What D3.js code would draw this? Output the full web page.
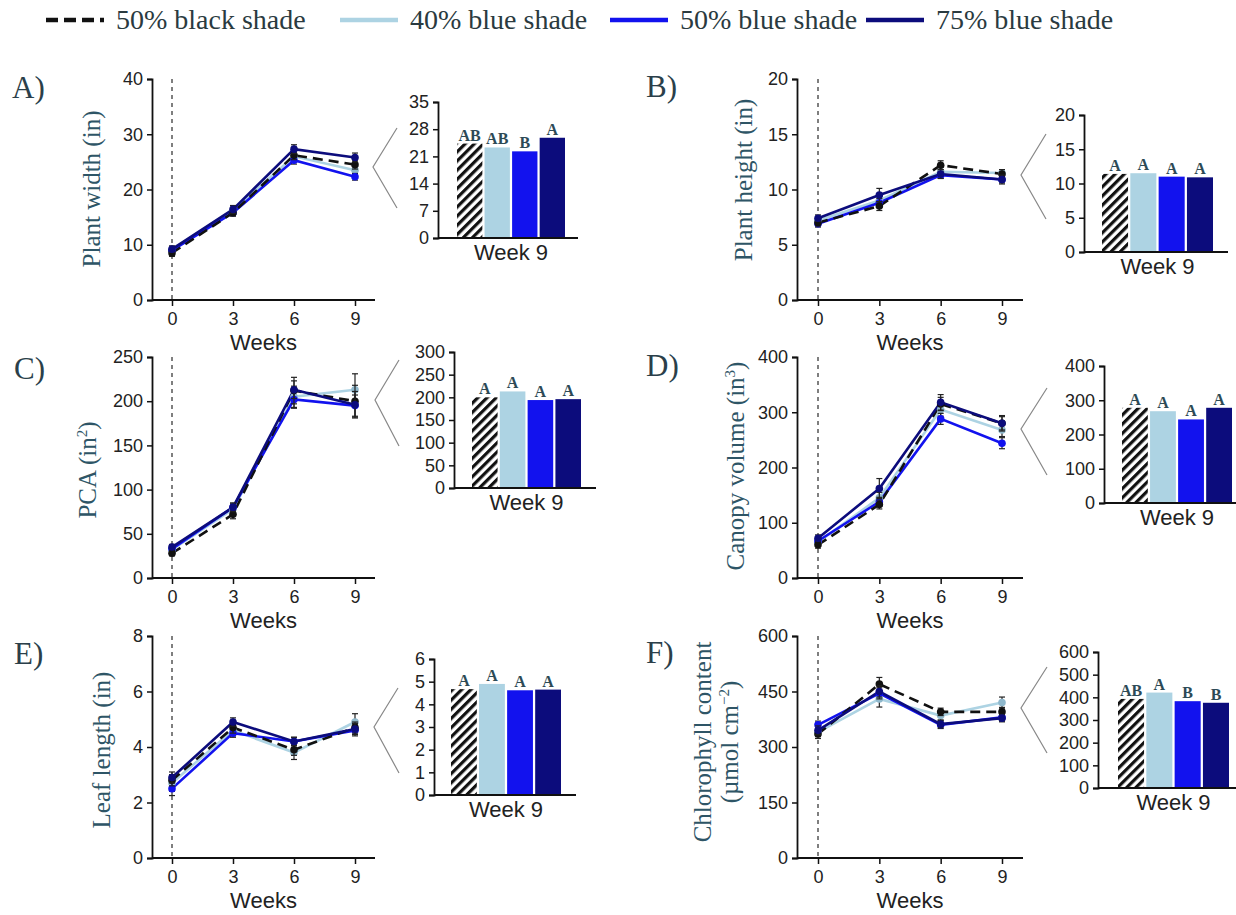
<!DOCTYPE html>
<html>
<head>
<meta charset="utf-8">
<script src="https://cdn.jsdelivr.net/npm/d3@7"></script>
<style>
  body { margin: 0; background: #fff; }
  svg { display: block; }
  .tick text { font-family: "Liberation Sans", Arial, sans-serif; fill: #222; }
</style>
</head>
<body>
<div id="chart"></div>
<script>
// series (treatments)
const series = ["50% black shade", "40% blue shade", "50% blue shade", "75% blue shade"];
const weeks = [0, 3, 6, 9];

// weekly means, one row per series (black, light blue, blue, navy)
const plantWidth = [[8.5, 15.8, 26.2, 24.5], [9.0, 16.2, 26.0, 23.5], [9.0, 15.8, 25.3, 22.3], [9.2, 16.4, 27.3, 25.8]];
const plantWidthErr = [[0.6, 0.6, 0.8, 0.8], [0.5, 0.6, 0.8, 0.7], [0.5, 0.6, 0.7, 0.6], [0.6, 0.7, 0.8, 0.8]];
const plantHeight = [[7.0, 8.5, 12.2, 11.4], [7.2, 9.0, 11.6, 11.5], [6.9, 8.8, 11.3, 10.9], [7.4, 9.5, 11.4, 10.9]];
const plantHeightErr = [[0.3, 0.4, 0.4, 0.4], [0.3, 0.5, 0.4, 0.3], [0.3, 0.4, 0.3, 0.3], [0.3, 0.6, 0.4, 0.4]];
const pca = [[28, 72, 212, 200], [32, 78, 205, 213], [33, 80, 202, 195], [35, 80, 213, 196]];
const pcaErr = [[3, 5, 15, 18], [3, 5, 12, 18], [3, 4, 10, 12], [3, 5, 10, 15]];
const canopy = [[60, 133, 315, 280], [65, 145, 305, 268], [67, 138, 288, 244], [72, 162, 318, 280]];
const canopyErr = [[6, 8, 12, 12], [6, 10, 12, 12], [6, 8, 10, 10], [6, 18, 14, 14]];
const leafLength = [[2.8, 4.7, 3.9, 4.7], [2.7, 4.6, 3.8, 4.9], [2.5, 4.5, 4.2, 4.6], [2.9, 4.9, 4.2, 4.65]];
const leafLengthErr = [[0.2, 0.2, 0.2, 0.2], [0.3, 0.2, 0.25, 0.3], [0.25, 0.15, 0.15, 0.2], [0.2, 0.15, 0.15, 0.2]];
const chlorophyll = [[335, 470, 395, 395], [340, 430, 385, 420], [360, 445, 360, 380], [345, 450, 362, 378]];
const chlorophyllErr = [[12, 18, 10, 12], [12, 22, 12, 15], [10, 15, 10, 10], [12, 15, 10, 10]];

// week 9 bars and significance letters
const plantWidthWk9 = [24.3, 23.3, 22.3, 25.8];
const plantWidthLetters = ["AB", "AB", "B", "A"];
const plantHeightWk9 = [11.4, 11.5, 11.0, 10.9];
const plantHeightLetters = ["A", "A", "A", "A"];
const pcaWk9 = [200, 213, 194, 196];
const pcaLetters = ["A", "A", "A", "A"];
const canopyWk9 = [278, 268, 244, 278];
const canopyLetters = ["A", "A", "A", "A"];
const leafLengthWk9 = [4.67, 4.9, 4.62, 4.65];
const leafLengthLetters = ["A", "A", "A", "A"];
const chlorophyllWk9 = [393, 421, 383, 376];
const chlorophyllLetters = ["AB", "A", "B", "B"];

// tick values
const widthTicks = [0, 10, 20, 30, 40], widthBarTicks = [0, 7, 14, 21, 28, 35];
const heightTicks = [0, 5, 10, 15, 20], heightBarTicks = [0, 5, 10, 15, 20];
const pcaTicks = [0, 50, 100, 150, 200, 250], pcaBarTicks = [0, 50, 100, 150, 200, 250, 300];
const canopyTicks = [0, 100, 200, 300, 400], canopyBarTicks = [0, 100, 200, 300, 400];
const leafTicks = [0, 2, 4, 6, 8], leafBarTicks = [0, 1, 2, 3, 4, 5, 6];
const chlTicks = [0, 150, 300, 450, 600], chlBarTicks = [0, 100, 200, 300, 400, 500, 600];

const colors = ["#111111", "#add3e3", "#1212ee", "#0c0c7c"];
const drawOrder = [1, 2, 0, 3];
const serif = "'Liberation Serif', 'Times New Roman', serif";
const sans = "'Liberation Sans', Arial, sans-serif";
const fmt = d3.format("~g");

const svg = d3.select("#chart").append("svg")
  .attr("width", 1236).attr("height", 915);

// hatch for the black shade bar
svg.append("defs").append("pattern")
  .attr("id", "hatch").attr("patternUnits", "userSpaceOnUse")
  .attr("width", 6.5).attr("height", 6.5)
  .attr("patternTransform", "rotate(45)")
  .call(p => {
    p.append("rect").attr("width", 6.5).attr("height", 6.5).attr("fill", "#fff");
    p.append("line").attr("x1", 1.6).attr("y1", 0).attr("x2", 1.6).attr("y2", 6.5)
      .attr("stroke", "#111").attr("stroke-width", 3.2);
  });

// legend
const legendX = [46, 340, 610, 866];
series.forEach((s, i) => {
  const g = svg.append("g");
  g.append("line").attr("x1", legendX[i]).attr("x2", legendX[i] + 58)
    .attr("y1", 20).attr("y2", 20)
    .attr("stroke", colors[i]).attr("stroke-width", 4.5)
    .attr("stroke-dasharray", i === 0 ? "12,6" : null);
  g.append("text").attr("x", legendX[i] + 70).attr("y", 29)
    .attr("font-family", serif).attr("font-size", 28).attr("fill", "#2a3a40")
    .text(s);
});

const panels = [
  { letter: "A)", label: ["Plant width (in)"], data: plantWidth, err: plantWidthErr, ticks: widthTicks,
    bars: plantWidthWk9, letters: plantWidthLetters, barTicks: widthBarTicks,
    lx: 12, ly: 98, labX: 100, labY: 189,
    m: { x0: 152, x1: 375, w0: 172, w9: 355, top: 79, bot: 300 },
    ins: { x0: 438, x1: 578, top: 102, bot: 238, b0: 457, b1: 565 },
    br: [[397, 128], [373, 167], [397, 208]] },
  { letter: "B)", label: ["Plant height (in)"], data: plantHeight, err: plantHeightErr, ticks: heightTicks,
    bars: plantHeightWk9, letters: plantHeightLetters, barTicks: heightBarTicks,
    lx: 646, ly: 97, labX: 752, labY: 180,
    m: { x0: 797, x1: 1023, w0: 818, w9: 1002, top: 79, bot: 300 },
    ins: { x0: 1084, x1: 1228, top: 115, bot: 252, b0: 1102, b1: 1213 },
    br: [[1046, 134], [1021, 175], [1046, 219]] },
  { letter: "C)", label: ["PCA (in", "2", ")"], data: pca, err: pcaErr, ticks: pcaTicks,
    bars: pcaWk9, letters: pcaLetters, barTicks: pcaBarTicks,
    lx: 14, ly: 379, labX: 96, labY: 470,
    m: { x0: 152, x1: 375, w0: 172, w9: 355, top: 357, bot: 578 },
    ins: { x0: 454, x1: 596, top: 352, bot: 488, b0: 472, b1: 581 },
    br: [[399, 360], [375, 400], [399, 446]] },
  { letter: "D)", label: ["Canopy volume (in", "3", ")"], data: canopy, err: canopyErr, ticks: canopyTicks,
    bars: canopyWk9, letters: canopyLetters, barTicks: canopyBarTicks,
    lx: 646, ly: 376, labX: 744, labY: 466,
    m: { x0: 797, x1: 1023, w0: 818, w9: 1002, top: 357, bot: 578 },
    ins: { x0: 1104, x1: 1240, top: 366, bot: 503, b0: 1122, b1: 1232 },
    br: [[1047, 388], [1021, 429], [1047, 475]] },
  { letter: "E)", label: ["Leaf length (in)"], data: leafLength, err: leafLengthErr, ticks: leafTicks,
    bars: leafLengthWk9, letters: leafLengthLetters, barTicks: leafBarTicks,
    lx: 14, ly: 664, labX: 110, labY: 750,
    m: { x0: 152, x1: 375, w0: 172, w9: 355, top: 636, bot: 858 },
    ins: { x0: 434, x1: 576, top: 659, bot: 795, b0: 451, b1: 561 },
    br: [[398, 688], [374, 727], [399, 773]] },
  { letter: "F)", label: ["Chlorophyll content", "(µmol cm", "−2", ")"], data: chlorophyll, err: chlorophyllErr, ticks: chlTicks,
    bars: chlorophyllWk9, letters: chlorophyllLetters, barTicks: chlBarTicks,
    lx: 646, ly: 663, labX: 715, labY: 742,
    m: { x0: 797, x1: 1023, w0: 818, w9: 1002, top: 636, bot: 858 },
    ins: { x0: 1098, x1: 1245, top: 652, bot: 788, b0: 1118, b1: 1229 },
    br: [[1047, 667], [1021, 708], [1047, 753]] }
];

panels.forEach(p => {
  const g = svg.append("g");
  const m = p.m;

  // panel letter
  g.append("text").attr("x", p.lx).attr("y", p.ly)
    .attr("font-family", serif).attr("font-size", 31).attr("fill", "#2b3f4a")
    .text(p.letter);

  // y label (rotated)
  const lab = g.append("text")
    .attr("transform", `translate(${p.labX},${p.labY}) rotate(-90)`)
    .attr("text-anchor", "middle")
    .attr("font-family", serif).attr("font-size", 25).attr("fill", "#2e5566");
  if (p.label.length === 1) {
    lab.text(p.label[0]);
  } else if (p.label.length === 3) {
    lab.append("tspan").text(p.label[0]);
    lab.append("tspan").attr("dy", -9).attr("font-size", 15).text(p.label[1]);
    lab.append("tspan").attr("dy", 9).text(p.label[2]);
  } else {
    lab.append("tspan").attr("x", 0).attr("dy", -4).text(p.label[0]);
    const l2 = lab.append("tspan").attr("x", 0).attr("dy", 27);
    l2.text(p.label[1]);
    lab.append("tspan").attr("dy", -9).attr("font-size", 15).text(p.label[2]);
    lab.append("tspan").attr("dy", 9).text(p.label[3]);
  }

  // main line chart
  const x = d3.scaleLinear().domain([0, 9]).range([m.w0, m.w9]);
  const y = d3.scaleLinear().domain([0, d3.max(p.ticks)]).range([m.bot, m.top]);

  g.append("g").attr("transform", `translate(${m.x0},0)`)
    .call(d3.axisLeft(y).tickValues(p.ticks).tickFormat(fmt).tickSizeOuter(0).tickSize(5).tickPadding(4))
    .call(a => a.select(".domain").attr("stroke", "#111").attr("stroke-width", 1.8))
    .call(a => a.selectAll(".tick line").attr("stroke", "#111").attr("stroke-width", 1.5))
    .call(a => a.selectAll(".tick text").attr("font-size", 18));

  const xa = g.append("g").attr("transform", `translate(0,${m.bot})`)
    .call(d3.axisBottom(x).tickValues(weeks).tickSize(6).tickPadding(6))
    .call(a => a.select(".domain").remove())
    .call(a => a.selectAll(".tick line").attr("stroke", "#111").attr("stroke-width", 1.5))
    .call(a => a.selectAll(".tick text").attr("font-size", 18));
  xa.append("line").attr("x1", m.x0).attr("x2", m.x1).attr("y1", 0).attr("y2", 0)
    .attr("stroke", "#111").attr("stroke-width", 1.8);

  g.append("text").attr("x", (m.x0 + m.x1) / 2).attr("y", m.bot + 50)
    .attr("text-anchor", "middle").attr("font-family", sans).attr("font-size", 22)
    .attr("fill", "#222").text("Weeks");

  // dashed reference line at week 0
  g.append("line").attr("x1", x(0)).attr("x2", x(0)).attr("y1", m.top).attr("y2", m.bot)
    .attr("stroke", "#555").attr("stroke-width", 1.5).attr("stroke-dasharray", "4,4");

  const line = d3.line().x((d, i) => x(weeks[i])).y(d => y(d));
  drawOrder.forEach(s => {
    g.append("path").datum(p.data[s]).attr("d", line)
      .attr("fill", "none").attr("stroke", colors[s]).attr("stroke-width", 2.6)
      .attr("stroke-dasharray", s === 0 ? "10,6" : null);
  });
  drawOrder.forEach(s => {
    p.data[s].forEach((v, i) => {
      const e = p.err[s][i], cx = x(weeks[i]);
      g.append("line").attr("x1", cx).attr("x2", cx).attr("y1", y(v - e)).attr("y2", y(v + e))
        .attr("stroke", "#222").attr("stroke-width", 1.2);
      [v - e, v + e].forEach(t => g.append("line").attr("x1", cx - 3).attr("x2", cx + 3)
        .attr("y1", y(t)).attr("y2", y(t)).attr("stroke", "#222").attr("stroke-width", 1.2));
    });
    g.selectAll(null).data(p.data[s]).enter().append("circle")
      .attr("cx", (d, i) => x(weeks[i])).attr("cy", d => y(d)).attr("r", 3.8)
      .attr("fill", s === 1 ? "#8fb8cc" : colors[s]);
  });

  // zoom bracket
  g.append("path").attr("d", d3.line()(p.br))
    .attr("fill", "none").attr("stroke", "#888").attr("stroke-width", 1.2);

  // week 9 inset bar chart
  const ins = p.ins;
  const bx = d3.scaleBand().domain(series).range([ins.b0, ins.b1]).paddingInner(0.08);
  const by = d3.scaleLinear().domain([0, d3.max(p.barTicks)]).range([ins.bot, ins.top]);

  g.append("g").attr("transform", `translate(${ins.x0},0)`)
    .call(d3.axisLeft(by).tickValues(p.barTicks).tickFormat(fmt).tickSizeOuter(0).tickSize(5).tickPadding(4))
    .call(a => a.select(".domain").attr("stroke", "#111").attr("stroke-width", 1.8))
    .call(a => a.selectAll(".tick line").attr("stroke", "#111").attr("stroke-width", 1.5))
    .call(a => a.selectAll(".tick text").attr("font-size", 18));
  g.append("line").attr("x1", ins.x0).attr("x2", ins.x1).attr("y1", ins.bot).attr("y2", ins.bot)
    .attr("stroke", "#111").attr("stroke-width", 1.8);

  g.selectAll(null).data(p.bars).enter().append("rect")
    .attr("x", (d, i) => bx(series[i])).attr("width", bx.bandwidth())
    .attr("y", d => by(d)).attr("height", d => by(0) - by(d) - 1)
    .attr("fill", (d, i) => i === 0 ? "url(#hatch)" : colors[i]);

  g.selectAll(null).data(p.bars).enter().append("text")
    .attr("x", (d, i) => bx(series[i]) + bx.bandwidth() / 2).attr("y", d => by(d) - 3)
    .attr("text-anchor", "middle").attr("font-family", serif).attr("font-weight", "bold")
    .attr("font-size", 16).attr("fill", "#2d4a56")
    .text((d, i) => p.letters[i]);

  g.append("text").attr("x", (ins.b0 + ins.b1) / 2).attr("y", ins.bot + 22)
    .attr("text-anchor", "middle").attr("font-family", sans).attr("font-size", 22)
    .attr("fill", "#222").text("Week 9");
});
</script>
</body>
</html>
